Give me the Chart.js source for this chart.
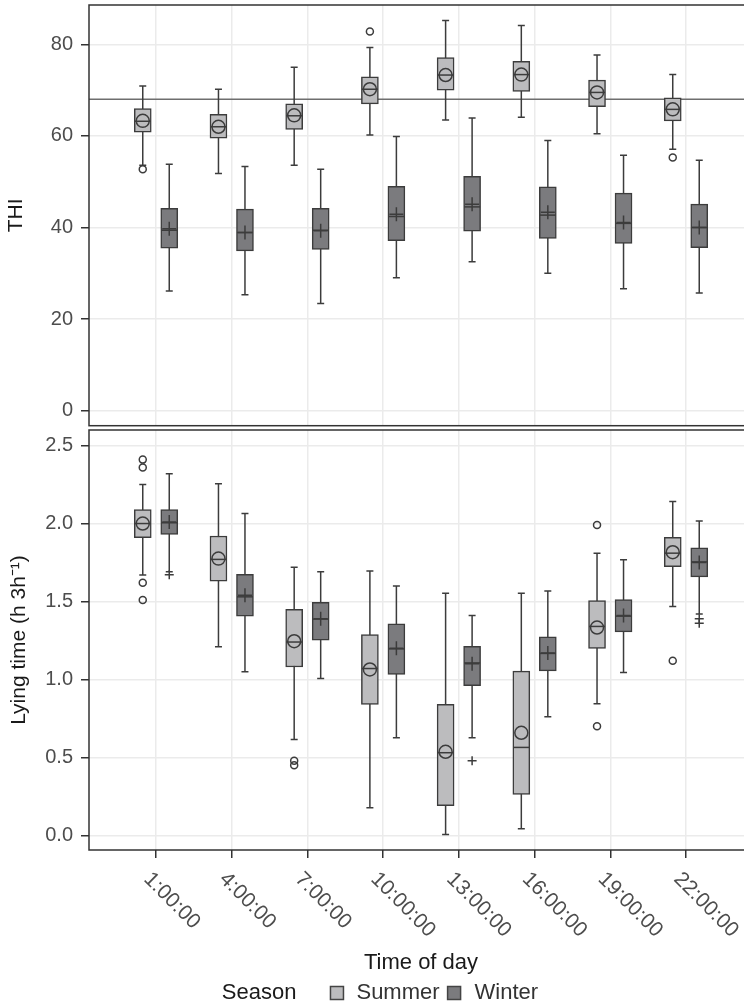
<!DOCTYPE html>
<html>
<head>
<meta charset="utf-8">
<script src="https://cdn.jsdelivr.net/npm/chart.js@4.4.0/dist/chart.umd.min.js"></script>
<style>
  html, body { margin: 0; padding: 0; background: #fff; overflow: hidden; width: 744px; height: 1005px; }
  canvas { display: block; }
</style>
</head>
<body>
<canvas id="thiChart" width="760" height="428"></canvas>
<canvas id="lyingChart" width="760" height="577"></canvas>
<script>
// time of day categories
var labels = ['1:00:00', '4:00:00', '7:00:00', '10:00:00', '13:00:00', '16:00:00', '19:00:00', '22:00:00'];
var thiTicks = [0, 20, 40, 60, 80];
var lyingTicks = [0, 0.5, 1, 1.5, 2, 2.5];
var thiLimit = 68;

// THI, summer
var thiSumMin    = [53.6, 51.8, 53.6, 60.2, 63.5, 64.1, 60.5, 57.1];
var thiSumQ1     = [60.8, 59.5, 61.4, 67.0, 70.0, 69.7, 66.4, 63.3];
var thiSumMedian = [63.2, 62.0, 64.4, 70.2, 73.3, 73.4, 69.5, 65.8];
var thiSumQ3     = [66.0, 64.7, 67.0, 72.9, 77.1, 76.3, 72.2, 68.3];
var thiSumMax    = [70.9, 70.2, 75.0, 79.3, 85.2, 84.1, 77.7, 73.4];
var thiSumMean   = [63.3, 62.0, 64.5, 70.2, 73.3, 73.4, 69.5, 65.8];
var thiSumOut    = [[52.7], [], [], [82.8], [], [], [], [55.3]];

// THI, winter
var thiWinMin    = [26.1, 25.3, 23.4, 29.0, 32.5, 30.0, 26.6, 25.7];
var thiWinQ1     = [35.5, 34.9, 35.2, 37.1, 39.2, 37.6, 36.5, 35.6];
var thiWinMedian = [39.4, 38.9, 39.4, 42.4, 44.5, 42.7, 40.9, 40.0];
var thiWinQ3     = [44.2, 44.0, 44.2, 49.0, 51.2, 48.9, 47.5, 45.1];
var thiWinMax    = [53.8, 53.3, 52.7, 59.9, 63.9, 59.0, 55.8, 54.7];
var thiWinMean   = [39.7, 38.9, 39.3, 42.9, 45.1, 43.3, 41.1, 40.0];
var thiWinOut    = [[], [], [], [], [], [], [], []];

// lying time, summer
var lySumMin    = [1.67, 1.21, 0.615, 0.177, 0.006, 0.042, 0.844, 1.468];
var lySumQ1     = [1.91, 1.63, 1.08, 0.84, 0.19, 0.263, 1.199, 1.724];
var lySumMedian = [2.0, 1.77, 1.24, 1.07, 0.53, 0.564, 1.34, 1.81];
var lySumQ3     = [2.09, 1.92, 1.45, 1.288, 0.84, 1.053, 1.506, 1.912];
var lySumMax    = [2.25, 2.256, 1.72, 1.696, 1.553, 1.553, 1.81, 2.141];
var lySumMean   = [2.0, 1.775, 1.245, 1.064, 0.536, 0.658, 1.333, 1.816];
var lySumOut    = [[2.41, 2.36, 1.62, 1.51], [], [0.478, 0.45], [], [], [], [1.99, 0.70], [1.12]];

// lying time, winter
var lyWinMin    = [1.69, 1.05, 1.006, 0.626, 0.626, 0.76, 1.045, 1.42];
var lyWinQ1     = [1.93, 1.406, 1.252, 1.032, 0.96, 1.055, 1.305, 1.658];
var lyWinMedian = [2.005, 1.53, 1.387, 1.196, 1.106, 1.167, 1.406, 1.754];
var lyWinQ3     = [2.09, 1.675, 1.494, 1.356, 1.213, 1.273, 1.513, 1.844];
var lyWinMax    = [2.32, 2.064, 1.69, 1.60, 1.41, 1.568, 1.767, 2.017];
var lyWinMean   = [2.01, 1.54, 1.39, 1.20, 1.10, 1.17, 1.41, 1.75];
var lyWinOut    = [[1.672], [], [], [], [0.478], [], [], [1.39, 1.36]];

var FONT = '"Liberation Sans", Arial, Helvetica, sans-serif';
Chart.defaults.font.family = FONT;
Chart.defaults.color = '#4d4d4d';

var SHIFT = 0.175;
var summerFill = '#bcbcbe';
var winterFill = '#7b7b7e';
var edge = '#3c3c3c';
var gridColor = '#ebebeb';

function boxSeries(name, q1, q3, lo, med, hi, shift, fill) {
  return {
    type: 'bar',
    label: name,
    order: 2,
    data: q1.map(function (v, i) { return { x: i + shift, y: [v, q3[i]] }; }),
    whisker: { min: lo, median: med, max: hi },
    backgroundColor: fill,
    borderColor: edge,
    borderWidth: 1.5,
    borderSkipped: false,
    barThickness: 17,
    grouped: false
  };
}

function pointSeries(vals, shift, style, r) {
  var pts = [];
  vals.forEach(function (v, i) {
    [].concat(v).forEach(function (y) { pts.push({ x: i + shift, y: y }); });
  });
  return {
    type: 'scatter',
    order: 1,
    data: pts,
    pointStyle: style,
    pointRadius: r,
    pointHoverRadius: r,
    pointBorderColor: edge,
    pointBackgroundColor: 'rgba(0,0,0,0)',
    pointBorderWidth: 1.5
  };
}

// whiskers + caps under the boxes, medians on top
var boxWhiskers = {
  id: 'boxWhiskers',
  beforeDatasetsDraw: function (chart) {
    var x = chart.scales.x, y = chart.scales.y, ctx = chart.ctx;
    ctx.save();
    ctx.strokeStyle = edge;
    ctx.lineWidth = 1.5;
    chart.data.datasets.forEach(function (ds) {
      if (!ds.whisker) return;
      ds.data.forEach(function (d, i) {
        var px = x.getPixelForValue(d.x);
        var lo = y.getPixelForValue(ds.whisker.min[i]);
        var hi = y.getPixelForValue(ds.whisker.max[i]);
        ctx.beginPath();
        ctx.moveTo(px, lo); ctx.lineTo(px, hi);
        ctx.moveTo(px - 3.5, lo); ctx.lineTo(px + 3.5, lo);
        ctx.moveTo(px - 3.5, hi); ctx.lineTo(px + 3.5, hi);
        ctx.stroke();
      });
    });
    ctx.restore();
  },
  afterDatasetsDraw: function (chart) {
    var x = chart.scales.x, y = chart.scales.y, ctx = chart.ctx;
    ctx.save();
    ctx.strokeStyle = edge;
    ctx.lineWidth = 1.5;
    chart.data.datasets.forEach(function (ds) {
      if (!ds.whisker) return;
      ds.data.forEach(function (d, i) {
        var px = x.getPixelForValue(d.x);
        var py = y.getPixelForValue(ds.whisker.median[i]);
        ctx.beginPath();
        ctx.moveTo(px - 8, py); ctx.lineTo(px + 8, py);
        ctx.stroke();
      });
    });
    ctx.restore();
  }
};

var panelFrame = {
  id: 'panelFrame',
  afterDraw: function (chart) {
    var a = chart.chartArea, ctx = chart.ctx;
    ctx.save();
    ctx.strokeStyle = '#333';
    ctx.lineWidth = 1.5;
    ctx.strokeRect(a.left, a.top, a.right - a.left, a.bottom - a.top);
    ctx.restore();
  }
};

var limitLine = {
  id: 'limitLine',
  beforeDatasetsDraw: function (chart) {
    var a = chart.chartArea, ctx = chart.ctx;
    var py = chart.scales.y.getPixelForValue(thiLimit);
    ctx.save();
    ctx.strokeStyle = '#6e6e6e';
    ctx.lineWidth = 1.5;
    ctx.beginPath();
    ctx.moveTo(a.left, py); ctx.lineTo(a.right, py);
    ctx.stroke();
    ctx.restore();
  }
};

var slantedLabels = {
  id: 'slantedLabels',
  afterDraw: function (chart) {
    var x = chart.scales.x, ctx = chart.ctx, base = chart.chartArea.bottom + 26;
    ctx.save();
    ctx.font = '21px ' + FONT;
    ctx.fillStyle = '#4d4d4d';
    ctx.textAlign = 'left';
    ctx.textBaseline = 'middle';
    labels.forEach(function (t, i) {
      ctx.save();
      ctx.translate(x.getPixelForValue(i) - 9, base);
      ctx.rotate(Math.PI / 4);
      ctx.fillText(t, 0, 0);
      ctx.restore();
    });
    ctx.restore();
  }
};

var seasonLegend = {
  id: 'seasonLegend',
  afterDraw: function (chart) {
    var ctx = chart.ctx, cy = 565;
    ctx.save();
    ctx.font = '22px ' + FONT;
    ctx.textBaseline = 'middle';
    ctx.textAlign = 'left';
    var wTitle = ctx.measureText('Season').width;
    var wSum = ctx.measureText('Summer').width;
    var wWin = ctx.measureText('Winter').width;
    var total = wTitle + 34 + 13 + 13 + wSum + 8 + 13 + 14 + wWin;
    var cx = chart.width / 2 - total / 2;
    ctx.fillStyle = '#1a1a1a';
    ctx.fillText('Season', cx, cy);
    cx += wTitle + 34;
    [['Summer', summerFill, wSum, 13], ['Winter', winterFill, wWin, 14]].forEach(function (it) {
      ctx.fillStyle = it[1];
      ctx.fillRect(cx, cy - 6.5, 13, 13);
      ctx.strokeStyle = '#444';
      ctx.lineWidth = 1.5;
      ctx.strokeRect(cx, cy - 6.5, 13, 13);
      cx += 13 + it[3];
      ctx.fillStyle = '#333';
      ctx.fillText(it[0], cx, cy);
      cx += it[2] + 8;
    });
    ctx.restore();
  }
};

function xScale(bottom) {
  return {
    type: 'linear',
    min: -0.885,
    max: 7.885,
    offset: false,
    afterBuildTicks: function (scale) {
      scale.ticks = labels.map(function (l, i) { return { value: i }; });
    },
    afterFit: function (scale) {
      scale.height = bottom ? 155 : 2.3;
      scale.paddingLeft = 0; scale.paddingRight = 0;
    },
    ticks: { display: false },
    border: { display: false },
    grid: {
      offset: false,
      color: gridColor,
      lineWidth: 1.5,
      drawTicks: bottom,
      tickLength: 8,
      tickColor: '#333',
      tickWidth: 1.5
    },
    title: {
      display: bottom,
      text: 'Time of day',
      color: '#1a1a1a',
      font: { size: 22 },
      padding: { top: 0, bottom: 28.8 }
    }
  };
}

function yScale(min, max, ticks, title, titlePad, fmt) {
  return {
    type: 'linear',
    min: min,
    max: max,
    afterBuildTicks: function (scale) {
      scale.ticks = ticks.map(function (v) { return { value: v }; });
    },
    afterFit: function (scale) {
      scale.width = 89;
      scale.paddingTop = 0; scale.paddingBottom = 0;
    },
    border: { display: false },
    grid: {
      color: gridColor,
      lineWidth: 1.5,
      tickLength: 8,
      tickColor: '#333',
      tickWidth: 1.5
    },
    ticks: {
      padding: 8,
      color: '#4d4d4d',
      font: { size: 20 },
      callback: fmt
    },
    title: {
      display: true,
      text: title,
      color: '#1a1a1a',
      font: { size: 21 },
      padding: { top: titlePad, bottom: 0 }
    }
  };
}

new Chart(document.getElementById('thiChart'), {
  type: 'bar',
  data: {
    datasets: [
      pointSeries(thiSumMean, -SHIFT, 'circle', 6.5),
      pointSeries(thiWinMean, SHIFT, 'cross', 7),
      pointSeries(thiSumOut, -SHIFT, 'circle', 3.5),
      pointSeries(thiWinOut, SHIFT, 'cross', 4.5),
      boxSeries('Summer', thiSumQ1, thiSumQ3, thiSumMin, thiSumMedian, thiSumMax, -SHIFT, summerFill),
      boxSeries('Winter', thiWinQ1, thiWinQ3, thiWinMin, thiWinMedian, thiWinMax, SHIFT, winterFill)
    ]
  },
  options: {
    responsive: false,
    animation: false,
    layout: { autoPadding: false, padding: { top: 5, right: 7, left: 0, bottom: 0 } },
    plugins: { legend: { display: false }, tooltip: { enabled: false } },
    scales: {
      x: xScale(false),
      y: yScale(-3.3, 88.6, thiTicks, 'THI', 4, function (v) { return v; })
    }
  },
  plugins: [limitLine, boxWhiskers, panelFrame]
});

new Chart(document.getElementById('lyingChart'), {
  type: 'bar',
  data: {
    datasets: [
      pointSeries(lySumMean, -SHIFT, 'circle', 6.5),
      pointSeries(lyWinMean, SHIFT, 'cross', 7),
      pointSeries(lySumOut, -SHIFT, 'circle', 3.5),
      pointSeries(lyWinOut, SHIFT, 'cross', 4.5),
      boxSeries('Summer', lySumQ1, lySumQ3, lySumMin, lySumMedian, lySumMax, -SHIFT, summerFill),
      boxSeries('Winter', lyWinQ1, lyWinQ3, lyWinMin, lyWinMedian, lyWinMax, SHIFT, winterFill)
    ]
  },
  options: {
    responsive: false,
    animation: false,
    layout: { autoPadding: false, padding: { top: 2, right: 7, left: 0, bottom: 0 } },
    plugins: { legend: { display: false }, tooltip: { enabled: false } },
    scales: {
      x: xScale(true),
      y: yScale(-0.094, 2.6, lyingTicks, 'Lying time (h 3h\u207B\u00B9)', 7, function (v) { return v.toFixed(1); })
    }
  },
  plugins: [boxWhiskers, panelFrame, slantedLabels, seasonLegend]
});
</script>
</body>
</html>
